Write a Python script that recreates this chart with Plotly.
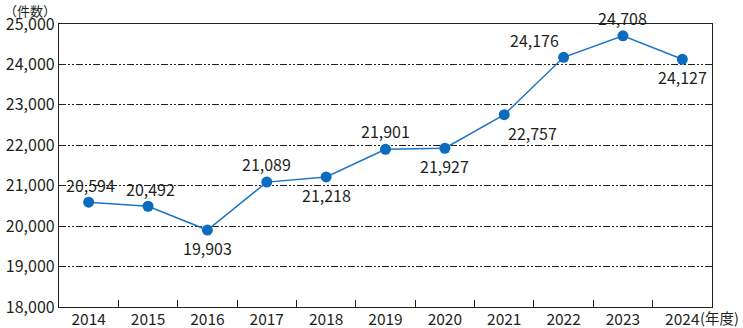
import plotly.graph_objects as go

years = ["2014", "2015", "2016", "2017", "2018", "2019", "2020", "2021", "2022", "2023", "2024"]
counts = [20594, 20492, 19903, 21089, 21218, 21901, 21927, 22757, 24176, 24708, 24127]
# label offsets (px) relative to the point
label_dx = [2, 2, 0, 0, 0, 0, 0, 28, -29, 0, 0]
label_dy = [17, 17, -18, 18, -18, 18, -18, -18, 17, 18, -18]

FONT = "Noto Sans CJK JP"
BLUE = "#0b6cbd"
INK = "#231f20"

fig = go.Figure()
fig.add_trace(go.Scatter(
    x=years, y=counts, mode="lines+markers",
    line=dict(color="#1c74c6", width=1.5),
    marker=dict(color=BLUE, size=11),
    hoverinfo="skip", showlegend=False,
))

for i, (v, dx, dy) in enumerate(zip(counts, label_dx, label_dy)):
    fig.add_annotation(x=i, y=v, text=f"{v:,}", showarrow=False,
                       xshift=dx, yshift=dy,
                       font=dict(family=FONT, size=16, color=INK))

fig.add_annotation(xref="paper", yref="paper", x=0, y=1.0, yshift=25, xshift=-1,
                   xanchor="right", yanchor="top", text="（件数）", showarrow=False,
                   font=dict(family=FONT, size=13, color=INK))
fig.add_annotation(xref="paper", yref="paper", x=1.0, y=0, yshift=-10, xshift=-14,
                   xanchor="left", yanchor="middle", text="(年度)", showarrow=False,
                   font=dict(family=FONT, size=14.5, color=INK))

fig.update_layout(
    width=743, height=328,
    margin=dict(l=59, r=31, t=24, b=21),
    paper_bgcolor="white", plot_bgcolor="white",
    font=dict(family=FONT, size=16, color=INK),
)
fig.update_xaxes(
    type="category", range=[-0.5, len(years) - 0.5], autorange=False,
    tickson="boundaries", ticks="inside", ticklen=7, tickangle=0,
    tickcolor=INK, showline=True, linecolor=INK, linewidth=1.2,
    mirror=True, showgrid=False, tickfont=dict(size=15.5), automargin=False,
    ticklabelstandoff=-2,
)
fig.update_yaxes(
    range=[18000, 25000], tickvals=list(range(18000, 25001, 1000)),
    tickformat=",d", showline=True, linecolor=INK, linewidth=1.2,
    mirror=True, showgrid=True, gridcolor=INK, gridwidth=0.8,
    griddash="7px,2px,2px,2px,2px,2px", ticks="", zeroline=False,
    tickfont=dict(size=16), automargin=False,
)

fig.write_html("out.html")
